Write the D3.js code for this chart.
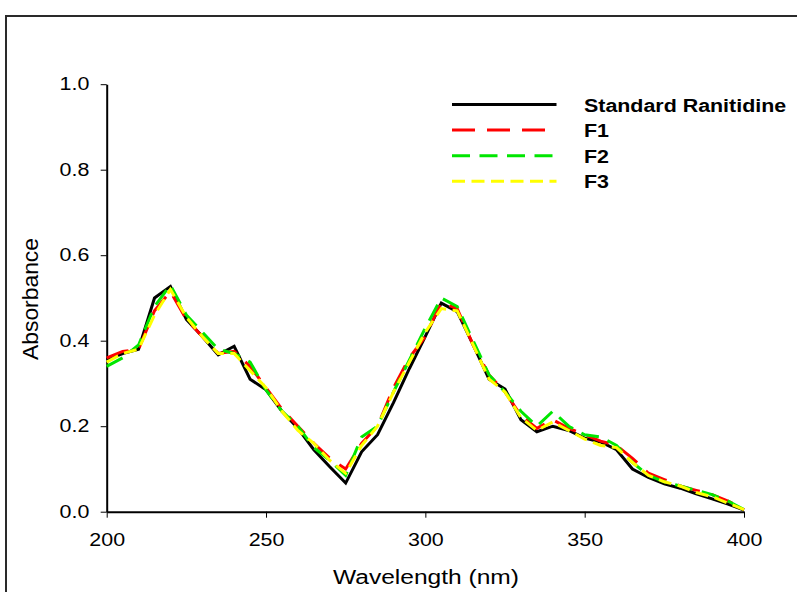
<!DOCTYPE html>
<html>
<head>
<meta charset="utf-8">
<script src="https://cdn.jsdelivr.net/npm/d3@7"></script>
<style>
	body { margin: 0; background: #fff; }
	svg { display: block; font-family: "Liberation Sans", Arial, sans-serif; }
</style>
</head>
<body>
<div id="chartbox"></div>
<script>
var WIDTH = 797;
var HEIGHT = 592;
var STRETCH = 1.19;

var wavelengths = [200, 205, 210, 215, 220, 225, 230, 235, 240, 245,
	250, 255, 260, 265, 270, 275, 280, 285, 290, 295,
	300, 305, 310, 315, 320, 325, 330, 335, 340, 345,
	350, 355, 360, 365, 370, 375, 380, 385, 390, 395, 400];

var standard = [0.355, 0.37, 0.38, 0.50, 0.527, 0.45, 0.41, 0.367, 0.387, 0.31,
	0.285, 0.235, 0.195, 0.145, 0.105, 0.067, 0.14, 0.18, 0.255, 0.335,
	0.41, 0.488, 0.468, 0.39, 0.31, 0.287, 0.215, 0.187, 0.20, 0.19,
	0.172, 0.163, 0.145, 0.10, 0.08, 0.065, 0.055, 0.042, 0.03, 0.018, 0.004];

var f1 = [0.36, 0.375, 0.38, 0.47, 0.515, 0.45, 0.41, 0.37, 0.375, 0.34,
	0.29, 0.24, 0.20, 0.16, 0.125, 0.10, 0.16, 0.20, 0.29, 0.36,
	0.41, 0.49, 0.475, 0.39, 0.32, 0.28, 0.225, 0.195, 0.215, 0.195,
	0.18, 0.165, 0.155, 0.125, 0.09, 0.075, 0.06, 0.05, 0.04, 0.025, 0.005];

var f2 = [0.34, 0.36, 0.39, 0.48, 0.53, 0.46, 0.42, 0.38, 0.37, 0.35,
	0.285, 0.235, 0.20, 0.15, 0.12, 0.085, 0.175, 0.20, 0.28, 0.355,
	0.43, 0.50, 0.48, 0.40, 0.32, 0.28, 0.235, 0.20, 0.235, 0.20,
	0.18, 0.175, 0.155, 0.115, 0.085, 0.07, 0.06, 0.05, 0.04, 0.025, 0.005];

var f3 = [0.35, 0.37, 0.38, 0.46, 0.52, 0.455, 0.41, 0.37, 0.37, 0.33,
	0.29, 0.235, 0.19, 0.16, 0.12, 0.09, 0.155, 0.20, 0.28, 0.35,
	0.42, 0.475, 0.47, 0.39, 0.31, 0.28, 0.22, 0.19, 0.21, 0.19,
	0.17, 0.155, 0.15, 0.115, 0.085, 0.07, 0.06, 0.045, 0.035, 0.02, 0.005];

var yTicks = [0, 0.2, 0.4, 0.6, 0.8, 1.0];
var xTicks = [200, 250, 300, 350, 400];

var seriesNames = ["Standard Ranitidine", "F1", "F2", "F3"];
var seriesValues = [standard, f1, f2, f3];
var seriesColors = ["#000000", "#ff0000", "#00e600", "#ffff00"];
var seriesDashes = [null, "23,12", "18,9.5", "13,6.5"];

drawChart();

function drawChart() {

	var svg = d3.select("#chartbox").append("svg")
		.attr("width", WIDTH)
		.attr("height", HEIGHT);

	//outer frame, runs off the right and bottom
	svg.append("rect")
		.attr("x", 6)
		.attr("y", 16)
		.attr("width", 820)
		.attr("height", 620)
		.attr("fill", "none")
		.attr("stroke", "#2a2a2a")
		.attr("stroke-width", 2);

	var x = d3.scaleLinear().domain([200, 400]).range([106.7, 744]);
	var y = d3.scaleLinear().domain([0, 1]).range([511.7, 84.2]);

	//x axis
	var gx = svg.append("g")
		.attr("transform", "translate(0," + y(0) + ")")
		.call(d3.axisBottom(x)
			.tickValues(xTicks)
			.tickSize(6)
			.tickSizeOuter(0)
			.tickPadding(16)
			.tickFormat(d3.format("d")));

	//y axis
	var gy = svg.append("g")
		.attr("transform", "translate(" + x(200) + ",0)")
		.call(d3.axisLeft(y)
			.tickValues(yTicks)
			.tickSize(6)
			.tickSizeOuter(0)
			.tickPadding(8.6)
			.tickFormat(d3.format(".1f")));

	[gx, gy].forEach(function(g) {
		g.select(".domain")
			.attr("stroke", "#000")
			.attr("stroke-width", 2);
		g.selectAll(".tick line")
			.attr("stroke", "#000")
			.attr("stroke-width", 1);
		g.selectAll(".tick text")
			.attr("font-family", "'Liberation Sans', Arial, sans-serif")
			.attr("font-size", 18)
			.attr("fill", "#000")
			.attr("transform", "scale(" + STRETCH + ",1)");
	});

	//axis titles
	svg.append("text")
		.attr("x", 426)
		.attr("y", 584)
		.attr("text-anchor", "middle")
		.attr("font-size", 20)
		.attr("textLength", 186)
		.attr("lengthAdjust", "spacingAndGlyphs")
		.text("Wavelength (nm)");

	svg.append("text")
		.attr("transform", "translate(37.5,299) rotate(-90)")
		.attr("text-anchor", "middle")
		.attr("font-size", 21.5)
		.attr("textLength", 122)
		.attr("lengthAdjust", "spacingAndGlyphs")
		.text("Absorbance");

	//spectra
	var line = d3.line()
		.x(function(d, i) { return x(wavelengths[i]); })
		.y(function(d) { return y(d); });

	svg.append("g")
		.selectAll(".spectrum")
		.data(seriesValues)
		.enter().append("path")
		.attr("class", "spectrum")
		.attr("d", line)
		.attr("fill", "none")
		.attr("stroke", function(d, i) { return seriesColors[i]; })
		.attr("stroke-width", 3)
		.attr("stroke-dasharray", function(d, i) { return seriesDashes[i]; });

	//legend
	var legend = svg.append("g")
		.selectAll(".legend-row")
		.data(seriesNames)
		.enter().append("g")
		.attr("class", "legend-row")
		.attr("transform", function(d, i) {
			return "translate(0," + (111.5 + i * 25.6) + ")";
		});

	legend.append("line")
		.attr("x1", 452)
		.attr("x2", 556.5)
		.attr("y1", -7)
		.attr("y2", -7)
		.attr("stroke", function(d, i) { return seriesColors[i]; })
		.attr("stroke-width", 3)
		.attr("stroke-dasharray", function(d, i) { return seriesDashes[i]; });

	legend.append("text")
		.attr("transform", "translate(584,0) scale(" + STRETCH + ",1)")
		.attr("font-size", 18)
		.attr("font-weight", "bold")
		.text(function(d) { return d; });

}
</script>
</body>
</html>
